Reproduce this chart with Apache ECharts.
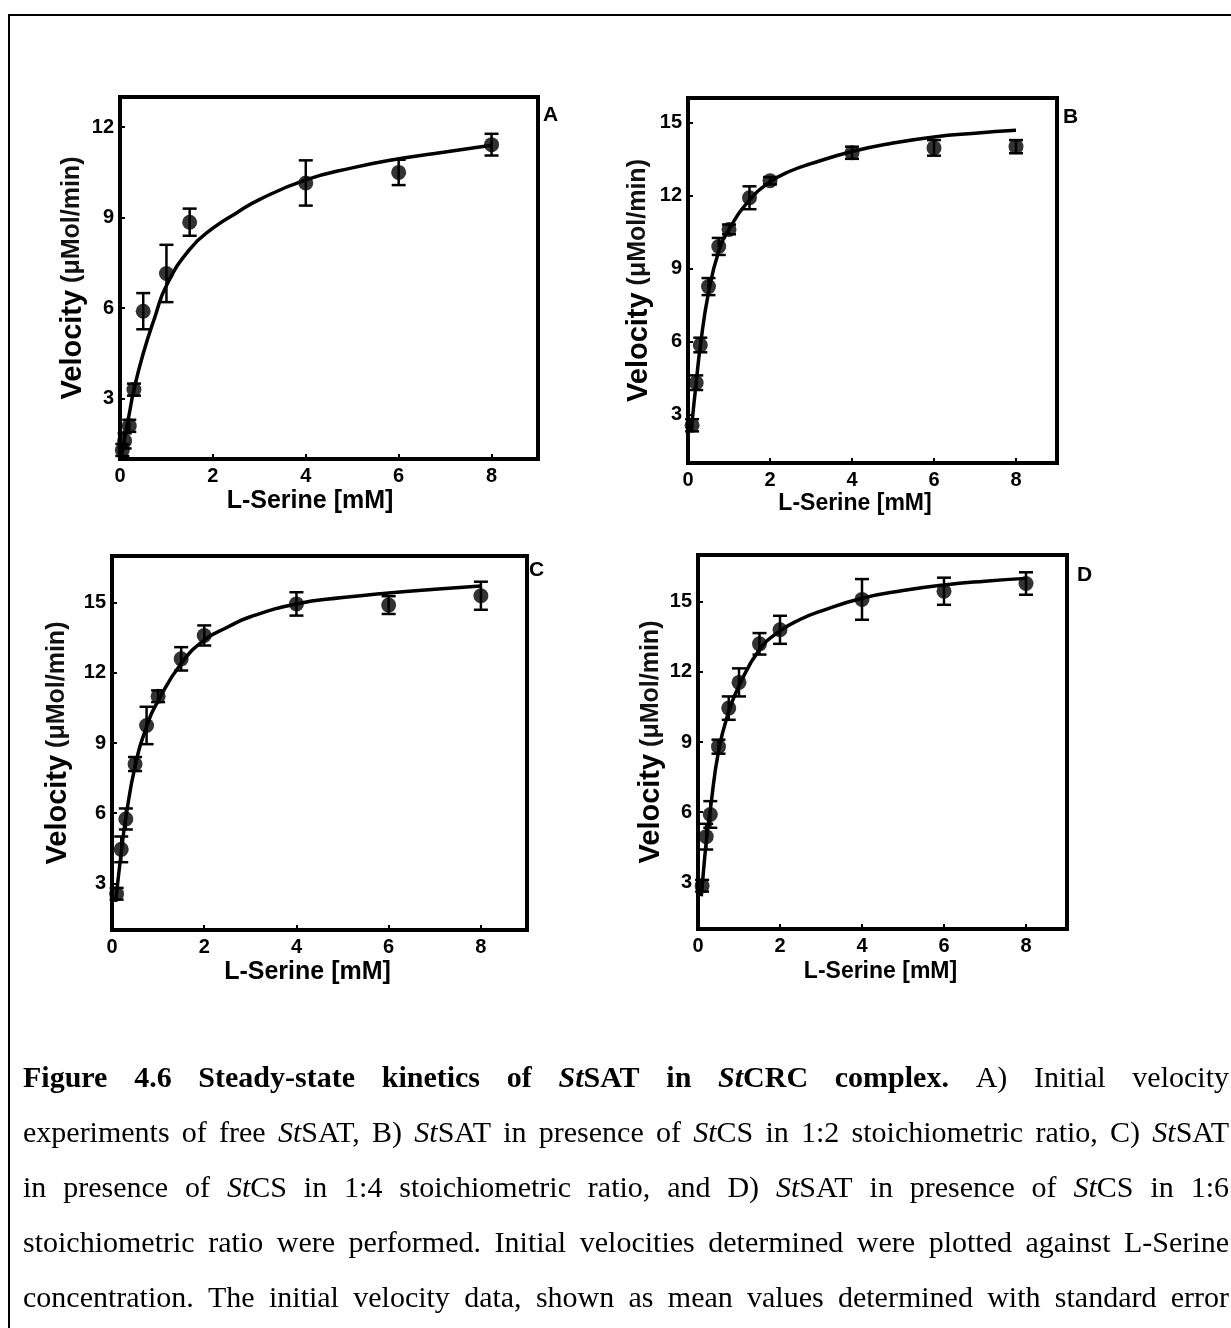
<!DOCTYPE html>
<html><head><meta charset="utf-8">
<script src="https://cdn.jsdelivr.net/npm/echarts@6/dist/echarts.min.js"></script>
<style>html,body{margin:0;padding:0;background:#fff}#c{width:1231px;height:1328px}</style>
</head><body><div id="c"></div>
<script>
// ---------------- data ----------------
const xTicks = [0, 2, 4, 6, 8];
const yTicksA = [3, 6, 9, 12];
const yTicksB = [3, 6, 9, 12, 15];
const yTicksC = [3, 6, 9, 12, 15];
const yTicksD = [3, 6, 9, 12, 15];

// Panel A: free StSAT
const concA = [0.05, 0.1, 0.2, 0.3, 0.5, 1, 1.5, 4, 6, 8];
const velA  = [1.3, 1.6, 2.1, 3.3, 5.9, 7.15, 8.85, 10.15, 10.5, 11.42];
const errA  = [0.2, 0.25, 0.2, 0.2, 0.6, 0.95, 0.45, 0.75, 0.42, 0.36];
const fitXA = [0.05, 0.1, 0.2, 0.3, 0.5, 0.75, 1, 1.5, 2, 2.5, 3, 4, 5, 6, 7, 8];
const fitYA = [1.2, 1.7, 2.5, 3.3, 4.5, 5.7, 6.75, 7.95, 8.65, 9.15, 9.6, 10.25, 10.65, 10.95, 11.18, 11.4];

// Panel B: 1:2
const concB = [0.1, 0.2, 0.3, 0.5, 0.75, 1, 1.5, 2, 4, 6, 8];
const velB  = [2.55, 4.3, 5.85, 8.25, 9.9, 10.6, 11.9, 12.6, 13.75, 13.95, 14.0];
const errB  = [0.25, 0.3, 0.3, 0.35, 0.35, 0.2, 0.47, 0.15, 0.25, 0.32, 0.27];
const fitXB = [0.08, 0.1, 0.2, 0.3, 0.5, 0.75, 1, 1.5, 2, 2.5, 3, 4, 5, 6, 7, 8];
const fitYB = [2.3, 2.7, 4.3, 5.8, 8.0, 9.7, 10.6, 11.8, 12.55, 13.0, 13.3, 13.8, 14.15, 14.4, 14.55, 14.67];

// Panel C: 1:4
const concC = [0.1, 0.2, 0.3, 0.5, 0.75, 1, 1.5, 2, 4, 6, 8];
const velC  = [2.55, 4.45, 5.75, 8.1, 9.75, 11.0, 12.6, 13.6, 14.95, 14.9, 15.3];
const errC  = [0.25, 0.55, 0.45, 0.3, 0.8, 0.25, 0.5, 0.43, 0.5, 0.38, 0.6];
const fitXC = [0.08, 0.1, 0.2, 0.3, 0.5, 0.75, 1, 1.5, 2, 2.5, 3, 4, 5, 6, 7, 8];
const fitYC = [2.2, 2.6, 4.3, 5.8, 8.0, 9.7, 10.8, 12.4, 13.4, 13.95, 14.4, 14.95, 15.22, 15.42, 15.58, 15.72];

// Panel D: 1:6
const concD = [0.1, 0.2, 0.3, 0.5, 0.75, 1, 1.5, 2, 4, 6, 8];
const velD  = [2.85, 4.95, 5.9, 8.8, 10.45, 11.55, 13.2, 13.8, 15.1, 15.45, 15.78];
const errD  = [0.25, 0.55, 0.57, 0.3, 0.5, 0.6, 0.46, 0.6, 0.87, 0.58, 0.48];
const fitXD = [0.08, 0.1, 0.2, 0.3, 0.5, 0.75, 1, 1.5, 2, 2.5, 3, 4, 5, 6, 7, 8];
const fitYD = [2.4, 2.8, 4.7, 6.1, 8.6, 10.3, 11.4, 12.95, 13.75, 14.25, 14.6, 15.15, 15.48, 15.72, 15.88, 16.0];

const panelLetters = ['A', 'B', 'C', 'D'];
const xTitle = 'L-Serine [mM]';
const yTitleMain = 'Velocity';
const yTitleUnit = '(μMol/min)';

const captionLines = [
  [['b', 'Figure 4.6 Steady-state kinetics of '], ['bi', 'St'], ['b', 'SAT in '], ['bi', 'St'], ['b', 'CRC complex.'], ['r', ' A) Initial velocity']],
  [['r', 'experiments of free '], ['i', 'St'], ['r', 'SAT, B) '], ['i', 'St'], ['r', 'SAT in presence of '], ['i', 'St'], ['r', 'CS in 1:2 stoichiometric ratio, C) '], ['i', 'St'], ['r', 'SAT']],
  [['r', 'in presence of '], ['i', 'St'], ['r', 'CS in 1:4 stoichiometric ratio, and D) '], ['i', 'St'], ['r', 'SAT in presence of '], ['i', 'St'], ['r', 'CS in 1:6']],
  [['r', 'stoichiometric ratio were performed. Initial velocities determined were plotted against L-Serine']],
  [['r', 'concentration. The initial velocity data, shown as mean values determined with standard error']]
];

// ---------------- layout ----------------
const SANS = '"Liberation Sans", Arial, sans-serif';
const SERIF = '"Liberation Serif", "Times New Roman", serif';

const panels = [
  { grid: {left: 120, top: 97, width: 418, height: 362}, ymin: 1, ymax: 13, yt: yTicksA,
    conc: concA, vel: velA, err: errA, fx: fitXA, fy: fitYA, yGap: 33, xGap: 30, xPad: 38, xFs: 25,
    letter: [543, 115] },
  { grid: {left: 688, top: 98, width: 369, height: 365}, ymin: 1, ymax: 16, yt: yTicksB,
    conc: concB, vel: velB, err: errB, fx: fitXB, fy: fitYB, yGap: 35, xGap: 29, xPad: 35, xFs: 23,
    letter: [1063, 117] },
  { grid: {left: 112, top: 556, width: 415, height: 374}, ymin: 1, ymax: 17, yt: yTicksC,
    conc: concC, vel: velC, err: errC, fx: fitXC, fy: fitYC, yGap: 40, xGap: 30, xPad: 24, xFs: 25,
    letter: [529, 570] },
  { grid: {left: 698, top: 555, width: 369, height: 374}, ymin: 1, ymax: 17, yt: yTicksD,
    conc: concD, vel: velD, err: errD, fx: fitXD, fy: fitYD, yGap: 31, xGap: 31, xPad: 4, xFs: 23,
    letter: [1077, 575] }
];

function errItem(params, api) {
  const x = api.value(0), lo = api.value(1), hi = api.value(2);
  const a = api.coord([x, hi]), b = api.coord([x, lo]);
  const hw = 7;
  const st = {stroke: '#000', lineWidth: 2.5};
  return {type: 'group', children: [
    {type: 'line', shape: {x1: a[0], y1: a[1], x2: b[0], y2: b[1]}, style: st},
    {type: 'line', shape: {x1: a[0] - hw, y1: a[1], x2: a[0] + hw, y2: a[1]}, style: st},
    {type: 'line', shape: {x1: b[0] - hw, y1: b[1], x2: b[0] + hw, y2: b[1]}, style: st}
  ]};
}

const grids = [], xAxes = [], yAxes = [], series = [], graphics = [];
const labelStyle = {color: '#000', fontFamily: SANS, fontWeight: 'bold', fontSize: 20};

panels.forEach((p, i) => {
  grids.push(Object.assign({show: true, borderColor: '#000', borderWidth: 4, backgroundColor: 'transparent'}, p.grid));
  xAxes.push({
    type: 'value', gridIndex: i, min: 0, max: 9,
    axisLine: {show: false},
    axisTick: {show: true, inside: true, length: 5, customValues: xTicks, lineStyle: {color: '#000', width: 2}},
    axisLabel: Object.assign({customValues: xTicks, margin: 7}, labelStyle),
    splitLine: {show: false},
    name: xTitle, nameLocation: 'middle', nameGap: p.xGap,
    nameTextStyle: {color: '#000', fontFamily: SANS, fontWeight: 'bold', fontSize: p.xFs, padding: [0, p.xPad, 0, 0]}
  });
  yAxes.push({
    type: 'value', gridIndex: i, min: p.ymin, max: p.ymax,
    axisLine: {show: false},
    axisTick: {show: true, inside: true, length: 5, customValues: p.yt, lineStyle: {color: '#000', width: 2}},
    axisLabel: Object.assign({customValues: p.yt, margin: 6}, labelStyle),
    splitLine: {show: false},
    name: '{v|' + yTitleMain + '} {u|' + yTitleUnit + '}', nameLocation: 'middle', nameGap: p.yGap,
    nameTextStyle: {color: '#000', fontFamily: SANS, fontWeight: 'bold', fontSize: 25,
      rich: {v: {fontFamily: SANS, fontWeight: 'bold', fontSize: 29, color: '#000'},
             u: {fontFamily: SANS, fontWeight: 'bold', fontSize: 25, color: '#111'}}}
  });
  series.push({
    type: 'line', xAxisIndex: i, yAxisIndex: i, z: 2,
    data: p.fx.map((x, k) => [x, p.fy[k]]),
    smooth: 0.5, showSymbol: false, symbol: 'none',
    lineStyle: {color: '#000', width: 3.5}
  });
  series.push({
    type: 'custom', xAxisIndex: i, yAxisIndex: i, z: 3,
    renderItem: errItem, encode: {x: 0, y: [1, 2]},
    data: p.conc.map((x, k) => [x, p.vel[k] - p.err[k], p.vel[k] + p.err[k]])
  });
  series.push({
    type: 'scatter', xAxisIndex: i, yAxisIndex: i, z: 4,
    data: p.conc.map((x, k) => [x, p.vel[k]]),
    symbol: 'circle', symbolSize: 15, itemStyle: {color: '#000'}
  });
  graphics.push({type: 'text', x: p.letter[0], y: p.letter[1], silent: true,
    style: {text: panelLetters[i], fill: '#000', font: 'bold 21px ' + SANS, align: 'left', verticalAlign: 'middle'}});
});

// outer frame
graphics.push({type: 'rect', silent: true, shape: {x: 9, y: 15, width: 1300, height: 1400},
  style: {fill: 'none', stroke: '#000', lineWidth: 2}});

// caption (justified lines)
const measureCtx = document.createElement('canvas').getContext('2d');
const CAP_FS = 30;
function capFont(s) {
  return (s.indexOf('i') >= 0 ? 'italic ' : '') + (s.indexOf('b') >= 0 ? 'bold ' : '') + CAP_FS + 'px ' + SERIF;
}
const capLeft = 23, capRight = 1229, capTop = 1079, capStep = 55;
captionLines.forEach((segs, li) => {
  const words = [[]];
  segs.forEach(([st, txt]) => {
    txt.split(' ').forEach((part, j) => {
      if (j > 0) words.push([]);
      if (part) words[words.length - 1].push({st, text: part});
    });
  });
  const ws = words.filter(w => w.length);
  let total = 0;
  ws.forEach(w => { w.width = 0; w.forEach(pt => { measureCtx.font = capFont(pt.st); pt.w = measureCtx.measureText(pt.text).width; w.width += pt.w; }); total += w.width; });
  const gap = ws.length > 1 ? (capRight - capLeft - total) / (ws.length - 1) : 0;
  let x = capLeft;
  const y = capTop + li * capStep;
  ws.forEach(w => {
    let px = x;
    w.forEach(pt => {
      graphics.push({type: 'text', x: px, y: y, silent: true,
        style: {text: pt.text, fill: '#000', font: capFont(pt.st), align: 'left', verticalAlign: 'middle'}});
      px += pt.w;
    });
    x += w.width + gap;
  });
});

const chart = echarts.init(document.getElementById('c'), null, {renderer: 'canvas'});
chart.setOption({
  animation: false,
  backgroundColor: '#fff',
  grid: grids, xAxis: xAxes, yAxis: yAxes, series: series,
  graphic: {elements: graphics}
});
</script></body></html>
